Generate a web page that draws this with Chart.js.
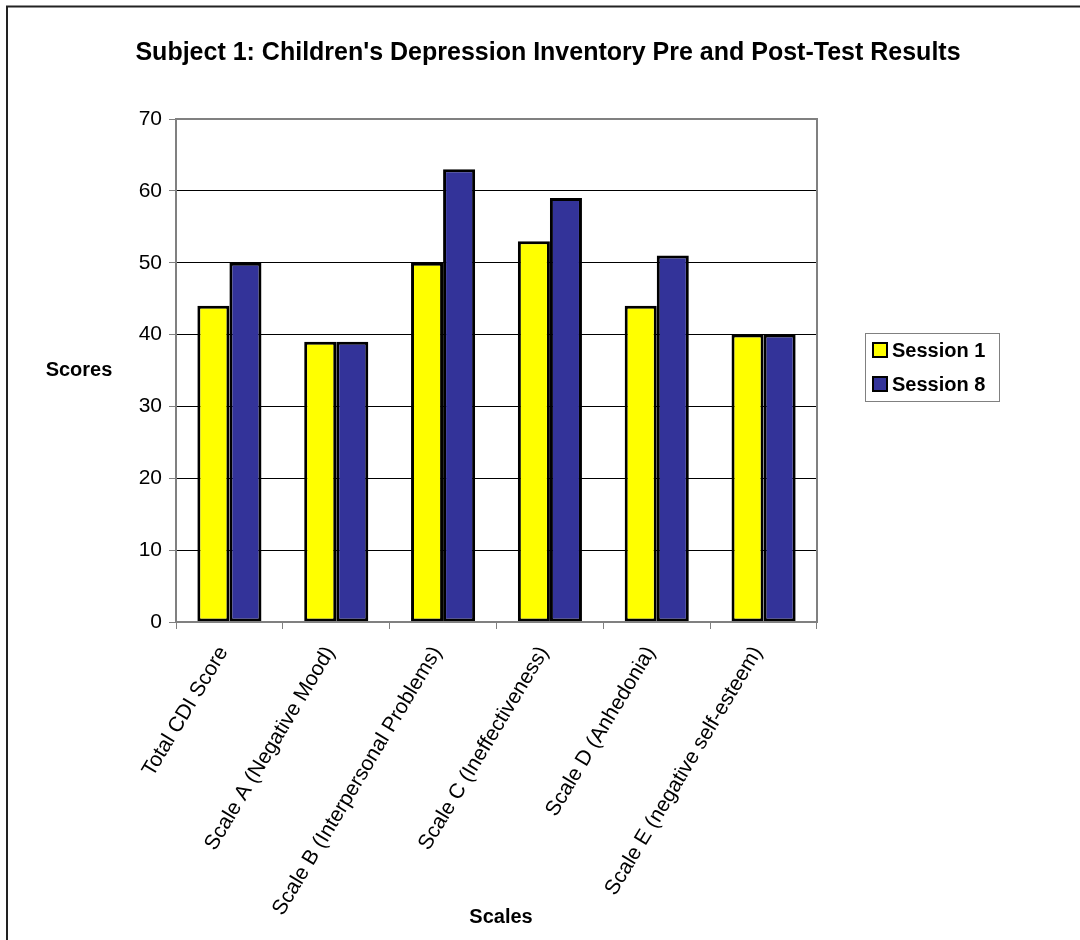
<!DOCTYPE html>
<html>
<head>
<meta charset="utf-8">
<script src="https://cdn.jsdelivr.net/npm/chart.js@4"></script>
<style>
  html, body { margin: 0; padding: 0; background: #fff; }
  #wrap { width: 1080px; height: 940px; position: relative; }
</style>
</head>
<body>
<div id="wrap"><canvas id="my-chart" width="1080" height="940"></canvas></div>
<script>
const categories = [
    'Total CDI Score',
    'Scale A (Negative Mood)',
    'Scale B (Interpersonal Problems)',
    'Scale C (Ineffectiveness)',
    'Scale D (Anhedonia)',
    'Scale E (negative self-esteem)'
];
const session1 = [44, 39, 50, 53, 44, 40];
const session8 = [50, 39, 63, 59, 51, 40];
const yTicks = [0, 10, 20, 30, 40, 50, 60, 70];

const titleText = "Subject 1: Children's Depression Inventory Pre and Post-Test Results";
const FONT = "'Liberation Sans', Arial, sans-serif";

// frame, title, axis titles and legend box drawn by hand (Excel style)
const extras = {
    id: 'extras',
    afterDraw(chart) {
        const ctx = chart.ctx;
        const a = chart.chartArea;
        ctx.save();

        // plot area frame
        ctx.strokeStyle = '#808080';
        ctx.lineWidth = 2;
        ctx.strokeRect(a.left, a.top, a.right - a.left, a.bottom - a.top);

        // outer frame (top + left only visible)
        ctx.strokeStyle = '#222';
        ctx.lineWidth = 2;
        ctx.beginPath();
        ctx.moveTo(7, 940);
        ctx.lineTo(7, 6.5);
        ctx.lineTo(1080, 6.5);
        ctx.stroke();

        ctx.fillStyle = '#000';
        ctx.textAlign = 'center';
        ctx.textBaseline = 'middle';
        ctx.font = 'bold 25px ' + FONT;
        ctx.fillText(titleText, 548, 53);

        ctx.font = 'bold 20px ' + FONT;
        ctx.fillText('Scores', 79, 370);
        ctx.fillText('Scales', 501, 917);

        // legend
        const lx = 865, ly = 333, lw = 134, lh = 68;
        ctx.strokeStyle = '#808080';
        ctx.lineWidth = 1;
        ctx.strokeRect(lx + 0.5, ly + 0.5, lw, lh);
        ctx.textAlign = 'left';
        chart.data.datasets.forEach((ds, i) => {
            const y = 350 + i * 34;
            ctx.fillStyle = ds.backgroundColor;
            ctx.fillRect(873, y - 7, 14, 14);
            ctx.strokeStyle = '#000';
            ctx.lineWidth = 2;
            ctx.strokeRect(873, y - 7, 14, 14);
            ctx.fillStyle = '#000';
            ctx.fillText(ds.label, 892, y + 1);
        });
        ctx.restore();
    }
};

const ctx = document.getElementById('my-chart').getContext('2d');

const chart = new Chart(ctx, {
    type: 'bar',
    data: {
        labels: categories,
        datasets: [
            {
                label: 'Session 1',
                data: session1,
                backgroundColor: '#FFFF00',
                borderColor: '#000',
                borderWidth: 3,
                borderSkipped: false
            },
            {
                label: 'Session 8',
                data: session8,
                backgroundColor: '#333399',
                borderColor: '#000',
                borderWidth: 3,
                borderSkipped: false
            }
        ]
    },
    options: {
        responsive: false,
        animation: false,
        devicePixelRatio: 1,
        layout: { padding: { top: 119, right: 263, bottom: 18, left: 0 } },
        datasets: { bar: { categoryPercentage: 0.6, barPercentage: 1.0 } },
        plugins: {
            legend: { display: false },
            title: { display: false },
            tooltip: { enabled: false }
        },
        scales: {
            x: {
                grid: {
                    display: true,
                    drawOnChartArea: false,
                    offset: true,
                    color: '#808080',
                    tickLength: 7
                },
                border: { color: '#808080', width: 2 },
                ticks: {
                    color: '#000',
                    font: { family: FONT, size: 21 },
                    minRotation: 59,
                    maxRotation: 59,
                    padding: 13,
                    labelOffset: -6,
                    autoSkip: false
                },
                afterFit: axis => { axis.height = 300; }
            },
            y: {
                min: 0,
                max: 70,
                afterBuildTicks: axis => { axis.ticks = yTicks.map(v => ({ value: v })); },
                grid: {
                    color: '#000',
                    lineWidth: 1,
                    tickColor: '#808080',
                    tickLength: 7
                },
                border: { color: '#808080', width: 2 },
                ticks: {
                    color: '#000',
                    font: { family: FONT, size: 21 },
                    padding: 7
                },
                afterFit: axis => { axis.width = 176; }
            }
        }
    },
    plugins: [extras]
});
</script>
</body>
</html>
